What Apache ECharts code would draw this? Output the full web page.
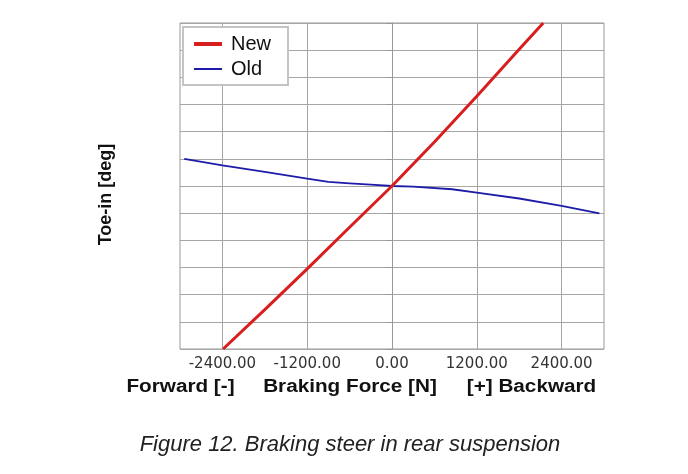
<!DOCTYPE html>
<html>
<head>
<meta charset="utf-8">
<script src="https://cdn.jsdelivr.net/npm/echarts@6/dist/echarts.min.js"></script>
<style>
html,body{margin:0;padding:0;background:#fff;}
#c{width:688px;height:474px;}
</style>
</head>
<body>
<div id="c"></div>
<script>
// ---- data ----
var xTicks = [-2400, -1200, 0, 1200, 2400];
var newX = [-2390, -1800, -1200, -600, 0, 600, 1200, 1800, 2140];
var newY = [-6.0, -4.55, -3.05, -1.52, 0, 1.62, 3.3, 5.03, 6.0];
var oldX = [-2940, -2400, -1800, -1200, -900, -600, -300, 0, 300, 850, 1200, 1800, 2400, 2935];
var oldY = [1.0, 0.76, 0.52, 0.27, 0.15, 0.1, 0.05, 0, -0.02, -0.12, -0.24, -0.46, -0.73, -1.01];
var seriesNames = ['New', 'Old'];
var yAxisTitle = 'Toe-in [deg]';
var xAxisTitles = ['Forward [-]', 'Braking Force [N]', '[+] Backward'];
var caption = 'Figure 12. Braking steer in rear suspension';

function pairs(xs, ys) { return xs.map(function (x, i) { return [x, ys[i]]; }); }

var chart = echarts.init(document.getElementById('c'), null, {renderer: 'canvas'});
var gridColor = '#a6a6a6';
var redC = '#d81e1e', blueC = '#1c1ca8';
chart.setOption({
  animation: false,
  backgroundColor: '#fff',
  grid: {left: 180, right: 84, top: 23, bottom: 125, show: true, borderColor: '#999', borderWidth: 1, backgroundColor: '#fff'},
  legend: {
    orient: 'vertical', left: 183, top: 27,
    padding: [7, 17, 6, 9],
    itemWidth: 28, itemHeight: 20, itemGap: 5,
    backgroundColor: '#fff', borderColor: '#c4c4c4', borderWidth: 2,
    itemStyle: {opacity: 0},
    textStyle: {fontFamily: 'Liberation Sans', fontSize: 20, color: '#111', padding: [0, 0, 0, 4]},
    data: [
      {name: seriesNames[0], lineStyle: {width: 4, color: redC, opacity: 1}},
      {name: seriesNames[1], lineStyle: {width: 2, color: blueC, opacity: 1}}
    ]
  },
  xAxis: {
    type: 'value', min: -3000, max: 3000,
    axisLine: {show: false},
    axisTick: {show: false, customValues: xTicks},
    axisLabel: {customValues: xTicks, margin: 8, fontFamily: 'DejaVu Sans', fontSize: 15, color: '#333',
      formatter: function (v) { return v.toFixed(2); }},
    splitLine: {show: true, lineStyle: {color: gridColor, width: 1}}
  },
  yAxis: {
    type: 'value', min: -6, max: 6, interval: 1,
    axisLine: {show: true, lineStyle: {color: '#999'}},
    axisTick: {show: true, length: 6, lineStyle: {color: '#999'}},
    axisLabel: {show: false},
    splitLine: {show: true, lineStyle: {color: gridColor, width: 1}}
  },
  series: [
    {name: seriesNames[0], type: 'line', data: pairs(newX, newY), symbol: 'none',
      lineStyle: {color: redC, width: 3}, itemStyle: {color: redC}, z: 3},
    {name: seriesNames[1], type: 'line', data: pairs(oldX, oldY), symbol: 'none',
      lineStyle: {color: blueC, width: 1.8}, itemStyle: {color: blueC}, z: 2}
  ],
  graphic: [
    {type: 'text', x: 106.5, y: 194.5, rotation: Math.PI / 2,
      style: {text: yAxisTitle, fontFamily: 'Liberation Sans', fontWeight: 'bold', fontSize: 18, fill: '#111', align: 'center', verticalAlign: 'middle'}},
    {type: 'text', x: 180.5, y: 387, scaleX: 1.15,
      style: {text: xAxisTitles[0], fontFamily: 'Liberation Sans', fontWeight: 'bold', fontSize: 18, fill: '#111', align: 'center', verticalAlign: 'middle'}},
    {type: 'text', x: 350, y: 387, scaleX: 1.15,
      style: {text: xAxisTitles[1], fontFamily: 'Liberation Sans', fontWeight: 'bold', fontSize: 18, fill: '#111', align: 'center', verticalAlign: 'middle'}},
    {type: 'text', x: 531.5, y: 387, scaleX: 1.15,
      style: {text: xAxisTitles[2], fontFamily: 'Liberation Sans', fontWeight: 'bold', fontSize: 18, fill: '#111', align: 'center', verticalAlign: 'middle'}},
    {type: 'text', x: 350, y: 445,
      style: {text: caption, fontFamily: 'Liberation Sans', fontStyle: 'italic', fontSize: 22, fill: '#222', align: 'center', verticalAlign: 'middle'}}
  ]
});
</script>
</body>
</html>
